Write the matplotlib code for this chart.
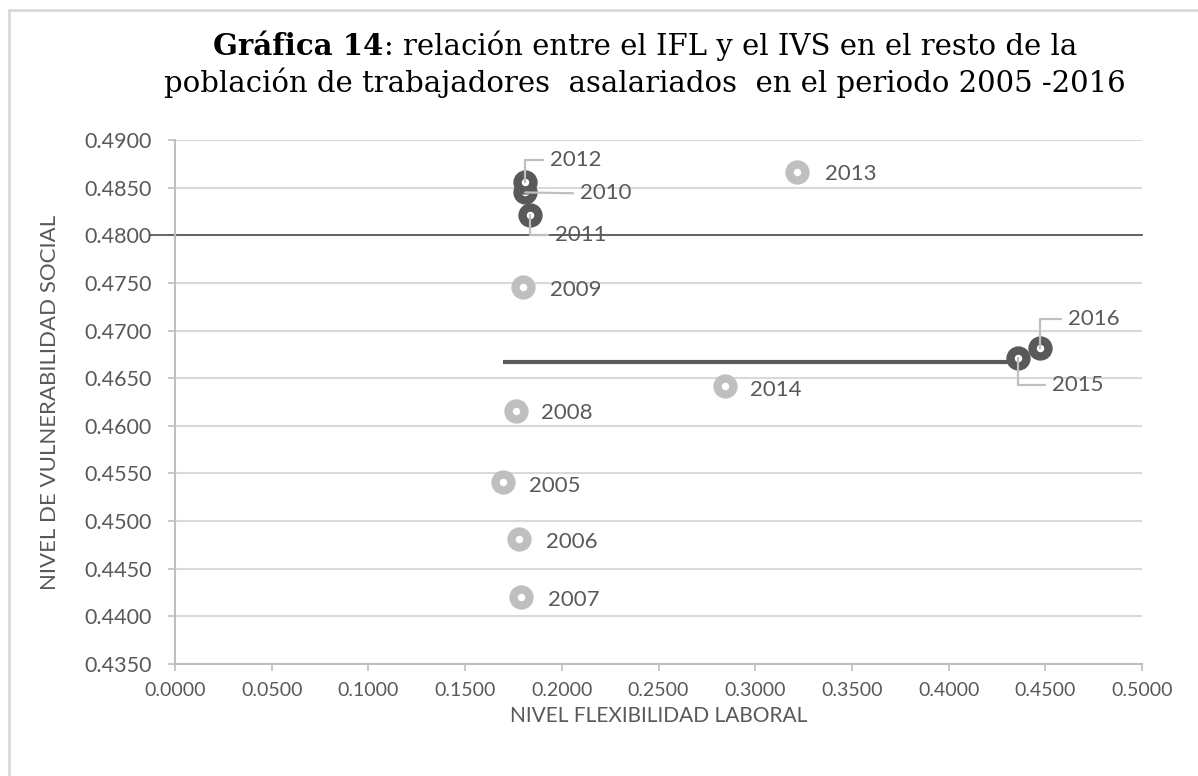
import matplotlib
matplotlib.use("Agg")
import matplotlib.pyplot as plt
from matplotlib.lines import Line2D

# ---- data ----
years = ["2005", "2006", "2007", "2008", "2009", "2010", "2011", "2012",
         "2013", "2014", "2015", "2016"]
ifl = [0.1696, 0.1779, 0.1789, 0.1763, 0.1800, 0.1810, 0.1836, 0.1810,
       0.3216, 0.2844, 0.4359, 0.4473]
ivs = [0.4541, 0.4481, 0.4420, 0.4616, 0.4746, 0.4845, 0.4821, 0.4856,
       0.4866, 0.4642, 0.4671, 0.4682]
dark_years = ["2010", "2011", "2012", "2015", "2016"]
threshold_ivs = 0.4800
trend_x = [0.1696, 0.4359]
trend_y = [0.4667, 0.4667]
x_ticks = [0.0, 0.05, 0.10, 0.15, 0.20, 0.25, 0.30, 0.35, 0.40, 0.45, 0.50]
y_ticks = [0.4350, 0.4400, 0.4450, 0.4500, 0.4550, 0.4600, 0.4650,
           0.4700, 0.4750, 0.4800, 0.4850, 0.4900]

# ---- styles ----
LIGHT = "#BFBFBF"
DARK = "#595959"
GRID = "#D9D9D9"
TXT = "#595959"
SANS = ["Lato", "DejaVu Sans"]

# label offsets in pixels (dx, dy) and whether they use a leader line
label_style = {
    "2005": (26, -4, None), "2006": (27, -3, None), "2007": (27, -3, None),
    "2008": (25, -2, None), "2009": (27, -3, None), "2013": (28, -2, None),
    "2014": (25, -4, None),
    "2012": (25, 22, "elbow"), "2010": (55, -1, "straight"),
    "2011": (25, -20, "elbow"), "2016": (28, 29, "elbow"),
    "2015": (34, -27, "elbow"),
}

fig = plt.figure(figsize=(11.98, 7.76), dpi=100)
ax = fig.add_axes([175/1198, 1-664/776, (1142-175)/1198, (664-140)/776])

ax.set_xlim(0, 0.5)
ax.set_ylim(0.435, 0.49)
ax.set_xticks(x_ticks)
ax.set_yticks(y_ticks)
ax.set_xticklabels([f"{v:.4f}" for v in x_ticks], fontsize=14, color=TXT, family=SANS)
ax.set_yticklabels([f"{v:.4f}" for v in y_ticks], fontsize=15.5, color=TXT, family=SANS)
ax.tick_params(axis="both", length=5, width=1.2, color=LIGHT, direction="out")
ax.tick_params(axis="y", pad=12)
ax.tick_params(axis="x", pad=8)
for s in ["top", "right"]:
    ax.spines[s].set_visible(False)
for s in ["left", "bottom"]:
    ax.spines[s].set_color(LIGHT)
    ax.spines[s].set_linewidth(1.5)
ax.grid(axis="y", color=GRID, linewidth=1.5, zorder=0)
ax.set_axisbelow(True)

# threshold line (extends slightly to the left of the axis)
ax.axhline(threshold_ivs, xmin=-0.026, xmax=1.0, color=DARK, linewidth=1.3,
           clip_on=False, zorder=2)
# horizontal trend segment
ax.plot(trend_x, trend_y, color=DARK, linewidth=3, zorder=2, solid_capstyle="butt")

for yr, x, y in zip(years, ifl, ivs):
    col = DARK if yr in dark_years else LIGHT
    ax.plot([x], [y], marker="o", markersize=11.5, markeredgewidth=6,
            markerfacecolor="white", markeredgecolor=col, linestyle="none",
            zorder=4)

for yr, x, y in zip(years, ifl, ivs):
    dx, dy, leader = label_style[yr]
    kw = {}
    if leader == "elbow":
        kw["arrowprops"] = dict(arrowstyle="-", color=LIGHT, lw=1.6,
                                connectionstyle="angle,angleA=0,angleB=90,rad=0",
                                shrinkA=3, shrinkB=0, relpos=(0, 0.5))
    elif leader == "straight":
        kw["arrowprops"] = dict(arrowstyle="-", color=LIGHT, lw=1.6,
                                shrinkA=3, shrinkB=0, relpos=(0, 0.5))
    ax.annotate(yr, (x, y), xytext=(dx, dy), textcoords="offset pixels",
                ha="left", va="center", fontsize=16, color=TXT, family=SANS,
                zorder=5, **kw)

ax.set_xlabel("NIVEL FLEXIBILIDAD LABORAL", fontsize=15, color=TXT, family=SANS,
              labelpad=5)
ax.set_ylabel("NIVEL DE VULNERABILIDAD SOCIAL", fontsize=16, color=TXT,
              family=SANS, labelpad=17)

# title (two lines, first part bold)
SERIF = ["DejaVu Serif"]
tsize = 21
fig.canvas.draw()
r = fig.canvas.get_renderer()
t_bold = fig.text(0, 0, "Gráfica 14", fontsize=tsize, fontweight="bold", family=SERIF)
t_rest = fig.text(0, 0, ": relación entre el IFL y el IVS en el resto de la",
                  fontsize=tsize, family=SERIF)
wb = t_bold.get_window_extent(r).width
wr = t_rest.get_window_extent(r).width
W = 1198.0
cx = 645.0
start = cx - (wb + wr) / 2
y1 = 1 - 55/776
t_bold.set_position((start / W, y1))
t_rest.set_position(((start + wb) / W, y1))
fig.text(cx / W, 1 - 92/776,
         "población de trabajadores  asalariados  en el periodo 2005 -2016",
         fontsize=tsize, family=SERIF, ha="center")

# frame (left and top edges visible)
fig.add_artist(Line2D([9/W, 9/W], [0, 1 - 10/776], color="#D9D9D9", lw=2,
                      transform=fig.transFigure))
fig.add_artist(Line2D([9/W, 1], [1 - 10/776, 1 - 10/776], color="#D9D9D9", lw=2,
                      transform=fig.transFigure))

fig.savefig("out.png", dpi=100)
